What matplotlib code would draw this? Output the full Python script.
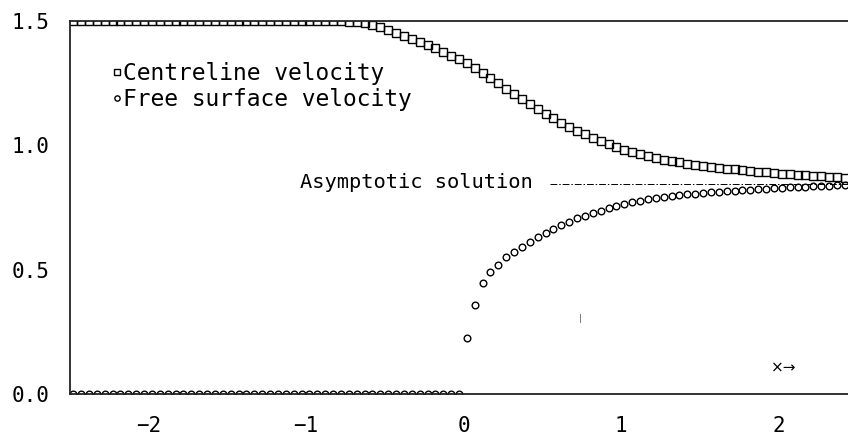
import numpy as np
import matplotlib
matplotlib.use("Agg")
from matplotlib import pyplot as plt
from matplotlib.lines import Line2D

x_start, x_step, n_pts = -2.48, 0.05, 99
x = x_start + x_step * np.arange(n_pts)

# centreline velocity (squares)
centreline = [1.5] * 34 + [
    1.499, 1.497, 1.494, 1.490, 1.484, 1.475, 1.465, 1.453, 1.441, 1.429,
    1.416, 1.403, 1.390, 1.376, 1.361, 1.346,
    1.330, 1.311, 1.290, 1.270, 1.250, 1.228, 1.206, 1.186, 1.166, 1.146,
    1.127, 1.109, 1.091, 1.074, 1.059, 1.044, 1.030, 1.017, 1.005, 0.994,
    0.983, 0.973, 0.964, 0.956, 0.949, 0.942, 0.936, 0.931, 0.926, 0.922,
    0.918, 0.914, 0.910, 0.906, 0.903, 0.900, 0.897, 0.894, 0.891, 0.889,
    0.886, 0.884, 0.882, 0.879, 0.877, 0.875, 0.873, 0.871, 0.869]

# free surface velocity (circles)
free_surface = [0.0] * 50 + [
    0.224, 0.358, 0.445, 0.492, 0.519, 0.550, 0.572, 0.592, 0.612, 0.633,
    0.649, 0.662, 0.680, 0.693, 0.707, 0.716, 0.727, 0.737, 0.747, 0.756,
    0.764, 0.771, 0.777, 0.783, 0.788, 0.792, 0.796, 0.800, 0.803, 0.806,
    0.809, 0.811, 0.813, 0.816, 0.818, 0.820, 0.822, 0.824, 0.826, 0.828,
    0.830, 0.831, 0.833, 0.834, 0.836, 0.837, 0.838, 0.839, 0.840]

asymptote = 0.845
asym_x = [0.55, 2.5]

xticks = [-2, -1, 0, 1, 2]
yticks = [0.0, 0.5, 1.0, 1.5]

plt.rcParams['font.family'] = ['DejaVu Sans Mono', 'DejaVu Sans']

fig = plt.figure(figsize=(8.48, 4.47), dpi=100)
ax = fig.add_axes([70/848, 53/447, 1 - 70/848, 373/447])

sq_style = dict(ls='none', marker='s', ms=5.3, mfc='none', mec='black', mew=1.0)
ci_style = dict(ls='none', marker='o', ms=4.8, mfc='none', mec='black', mew=1.0)

ax.plot(x, centreline, **sq_style)
ax.plot(x, free_surface, **ci_style)

# asymptotic solution line
ax.plot(asym_x, [asymptote, asymptote], color='black', lw=0.7, ls=(0, (7, 2, 1.5, 2)))
ax.text(0.44, asymptote + 0.005, 'Asymptotic solution', ha='right', va='center', fontsize=14.7)

ax.text(1.95, 0.105, '×→', ha='left', va='center', fontsize=11, family='DejaVu Sans')
ax.text(0.74, 0.305, '|', ha='center', va='center', fontsize=6, color='#555555')

handles = [Line2D([], [], **dict(sq_style, ms=4.3)),
           Line2D([], [], **dict(ci_style, ms=3.8))]
ax.legend(handles, ['Centreline velocity', 'Free surface velocity'],
          loc='upper left', bbox_to_anchor=(0.055, 0.89), frameon=False,
          fontsize=16.5, handlelength=0.35, handletextpad=0.1, labelspacing=0.12,
          borderpad=0, borderaxespad=0)

ax.set_xlim(-2.5, 2.44)
ax.set_ylim(0, 1.5)
ax.set_xticks(xticks)
ax.set_yticks(yticks)
ax.set_yticklabels(['%.1f' % v for v in yticks])
ax.tick_params(length=0, labelsize=15, pad=16)
ax.tick_params(axis='y', pad=15)

for s in ['top', 'left', 'bottom']:
    ax.spines[s].set_linewidth(1.3)
    ax.spines[s].set_color('#222222')
ax.spines['right'].set_visible(False)

fig.savefig('out.png', dpi=100)
